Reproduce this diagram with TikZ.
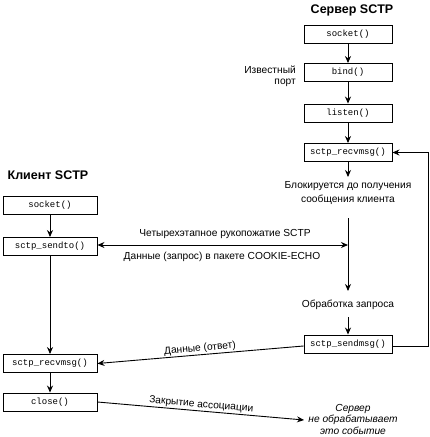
\documentclass[tikz,border=0pt]{standalone}
\usepackage{fontspec}
\setmainfont{Liberation Sans}
\setmonofont{Liberation Mono}
\usetikzlibrary{arrows.meta}
\begin{document}
\begin{tikzpicture}[x=1pt,y=-1pt,
  fbox/.style={draw,line width=0.9pt,minimum height=18pt,inner sep=0pt,font=\ttfamily\fontsize{9}{10}\selectfont},
  sbox/.style={fbox,minimum width=88pt},
  cbox/.style={fbox,minimum width=94pt},
  lbl/.style={font=\fontsize{10.2}{13}\selectfont,inner sep=1pt},
  ttl/.style={font=\bfseries\fontsize{12.5}{14}\selectfont},
  conn/.style={line width=0.9pt,-{Stealth[length=7pt,width=6pt]}},
  plain/.style={line width=0.9pt}]
\useasboundingbox (0,0) rectangle (429,437);
% server
\node[ttl] (st) at (352,10) {Сервер SCTP};
\node[sbox] (ssock) at (348,34) {socket()};
\node[sbox] (sbind) at (348,72.5) {bind()};
\node[sbox] (slist) at (348,113) {listen()};
\node[sbox] (srecv) at (348,152.5) {sctp\_recvmsg()};
\node[lbl,align=right,anchor=east,font=\fontsize{10.2}{11}\selectfont] (port) at (297,76) {Известный\\порт};
\coordinate (sb1) at (348,177);
\node[lbl,align=center,font=\fontsize{10.2}{14}\selectfont] (block) at (348,193) {Блокируется до получения\\сообщения клиента};
\coordinate (sv1) at (348,218);
\coordinate (sv2) at (348,291);
\coordinate (hs) at (348,245);
\node[lbl] (proc) at (348,305) {Обработка запроса};
\coordinate (pv1) at (348,317);
\node[sbox] (ssend) at (348,344) {sctp\_sendmsg()};
\coordinate (fb1) at (428,346);
\coordinate (fb2) at (428,152.5);
\draw[conn] (ssock) -- (sbind);
\draw[conn] (sbind) -- (slist);
\draw[conn] (slist) -- (srecv);
\draw[conn] (srecv) -- (sb1);
\draw[conn] (sv1) -- (sv2);
\draw[conn] (pv1) -- (ssend);
\draw[conn] (ssend.east |- fb1) -- (fb1) -- (fb2) -- (srecv.east);
% client
\node[ttl] (ct) at (48,175) {Клиент SCTP};
\node[cbox] (csock) at (50,205) {socket()};
\node[cbox] (csend) at (50,246.5) {sctp\_sendto()};
\node[cbox] (crecv) at (50,363.5) {sctp\_recvmsg()};
\node[cbox] (cclose) at (50,402) {close()};
\draw[conn] (csock) -- (csend);
\draw[conn] (csend) -- (crecv);
\draw[conn] (crecv) -- (cclose);
% messages
\draw[plain,{Stealth[length=7pt,width=6pt]}-{Stealth[length=7pt,width=6pt]}] (csend.east |- hs) -- (hs);
\node[lbl] (hsl1) at (225,234) {Четырехэтапное рукопожатие SCTP};
\node[lbl] (hsl2) at (222,257) {Данные (запрос) в пакете COOKIE-ECHO};
\draw[conn] (ssend.west |- fb1) -- node[lbl,sloped,above,pos=0.5] {Данные (ответ)} (crecv.east);
\coordinate (ce) at (304,420);
\draw[conn] (cclose.east) -- node[lbl,sloped,above,pos=0.5] {Закрытие ассоциации} (ce);
\node[lbl,align=center,inner sep=0pt,font=\itshape\fontsize{10.2}{11.5}\selectfont] (note) at (353,419) {Сервер\\не обрабатывает\\это событие};
\end{tikzpicture}
\end{document}
